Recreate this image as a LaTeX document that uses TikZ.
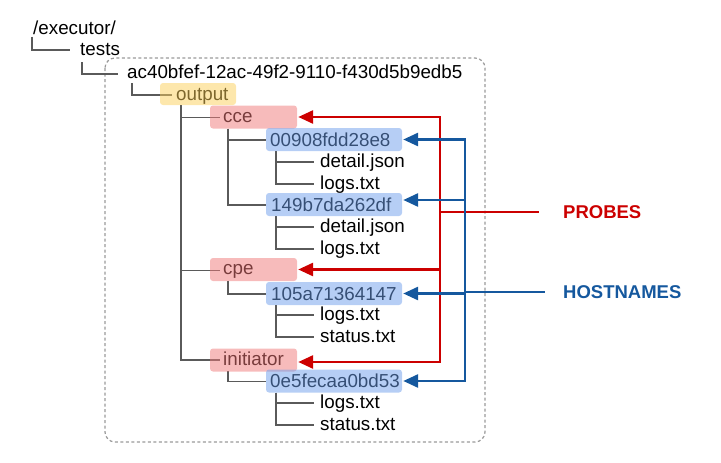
\documentclass[tikz,border=0pt]{standalone}
\usepackage{fontspec}
\setmainfont{Liberation Sans}
\usetikzlibrary{arrows.meta}
\definecolor{treegray}{HTML}{5A5A5A}
\definecolor{dashgray}{HTML}{9A9A9A}
\definecolor{yel}{HTML}{FBCF5A}
\definecolor{pnk}{HTML}{F07878}
\definecolor{blu}{HTML}{6D9EEB}
\definecolor{arrred}{HTML}{CC0000}
\definecolor{arrblue}{HTML}{15589E}
\tikzset{
  ftxt/.style={anchor=base west, inner sep=0pt, font=\fontsize{18.8}{21}\selectfont},
  tree/.style={draw=treegray, line width=1.4pt},
  boxy/.style={rounded corners=3pt, fill opacity=0.5, inner sep=0pt, draw=none},
  ybox/.style={boxy, fill=yel, minimum width=76pt, minimum height=22pt},
  pbox/.style={boxy, fill=pnk, minimum width=87pt, minimum height=23pt},
  hbox/.style={boxy, fill=blu, minimum width=136pt, minimum height=23pt},
  rline/.style={draw=arrred, line width=2.8pt},
  bline/.style={draw=arrblue, line width=2.8pt},
  lbl/.style={anchor=west, inner sep=0pt, font=\fontsize{18.5}{21}\selectfont\bfseries},
}
\begin{document}
\begin{tikzpicture}[x=1pt,y=-1pt]
\useasboundingbox (0,0) rectangle (721,463);
% dashed frame
\draw[dashgray, line width=1.2pt, dash pattern=on 3pt off 2.5pt, rounded corners=10pt] (105,58) rectangle (485,442);

% texts
\node[ftxt] (t-exec) at (33,34.5) {/executor/};
\node[ftxt] (t-tests) at (80,55) {tests};
\node[ftxt] (t-ac) at (127,78) {ac40bfef-12ac-49f2-9110-f430d5b9edb5};
\node[ftxt] (t-out) at (176,100) {output};
\node[ftxt] (t-cce) at (223,122.5) {cce};
\node[ftxt] (t-h1) at (270,146) {00908fdd28e8};
\node[ftxt] (t-f1) at (320,167) {detail.json};
\node[ftxt] (t-f2) at (320,189) {logs.txt};
\node[ftxt] (t-h2) at (271,211) {149b7da262df};
\node[ftxt] (t-f3) at (320,232) {detail.json};
\node[ftxt] (t-f4) at (320,254) {logs.txt};
\node[ftxt] (t-cpe) at (223,274.5) {cpe};
\node[ftxt] (t-h3) at (271,300) {105a71364147};
\node[ftxt] (t-f5) at (320,320) {logs.txt};
\node[ftxt] (t-f6) at (320,342) {status.txt};
\node[ftxt] (t-init) at (223,365) {initiator};
\node[ftxt] (t-h4) at (270,387.5) {0e5fecaa0bd53};
\node[ftxt] (t-f7) at (320,408) {logs.txt};
\node[ftxt] (t-f8) at (320,430) {status.txt};

% tree connectors
\draw[tree] ([xshift=-1pt,yshift=-2pt]t-exec.base west) |- ([xshift=-10pt,yshift=5pt]t-tests.base west);
\draw[tree] ([xshift=2pt,yshift=-7pt]t-tests.base west) |- ([xshift=-9pt,yshift=4pt]t-ac.base west);
\draw[tree] ([xshift=5pt,yshift=-5pt]t-ac.base west) |- ([xshift=-4pt,yshift=5pt]t-out.base west);
\draw[tree] ([xshift=5pt,yshift=-5pt]t-out.base west) |- ([xshift=-3pt,yshift=5pt]t-init.base west);
\draw[tree] ([xshift=5pt,yshift=-5pt]t-out.base west) |- ([xshift=-3pt,yshift=5pt]t-cce.base west);
\draw[tree] ([xshift=5pt,yshift=-5pt]t-out.base west) |- ([xshift=-3pt,yshift=4pt]t-cpe.base west);
\draw[tree] ([xshift=5pt,yshift=-6pt]t-cce.base west) |- ([xshift=-5pt,yshift=6pt]t-h2.base west);
\draw[tree] ([xshift=5pt,yshift=-6pt]t-cce.base west) |- ([xshift=-4pt,yshift=6pt]t-h1.base west);
\draw[tree] ([xshift=6pt,yshift=-5pt]t-h1.base west) |- ([xshift=-6pt,yshift=5pt]t-f2.base west);
\draw[tree] ([xshift=6pt,yshift=-5pt]t-h1.base west) |- ([xshift=-6pt,yshift=5pt]t-f1.base west);
\draw[tree] ([xshift=5pt,yshift=-5pt]t-h2.base west) |- ([xshift=-6pt,yshift=5pt]t-f4.base west);
\draw[tree] ([xshift=5pt,yshift=-5pt]t-h2.base west) |- ([xshift=-6pt,yshift=5pt]t-f3.base west);
\draw[tree] ([xshift=5pt,yshift=-6pt]t-cpe.base west) |- ([xshift=-5pt,yshift=6pt]t-h3.base west);
\draw[tree] ([xshift=5pt,yshift=-5pt]t-h3.base west) |- ([xshift=-6pt,yshift=5pt]t-f6.base west);
\draw[tree] ([xshift=5pt,yshift=-5pt]t-h3.base west) |- ([xshift=-6pt,yshift=5pt]t-f5.base west);
\draw[tree] ([xshift=5pt,yshift=-6pt]t-init.base west) |- ([xshift=-4pt,yshift=6pt]t-h4.base west);
\draw[tree] ([xshift=6pt,yshift=-5pt]t-h4.base west) |- ([xshift=-6pt,yshift=5pt]t-f8.base west);
\draw[tree] ([xshift=6pt,yshift=-5pt]t-h4.base west) |- ([xshift=-6pt,yshift=5pt]t-f7.base west);

% translucent highlight boxes
\node[ybox] (b-out) at (198,94) {};
\node[pbox] (b-cce) at (253.5,117) {};
\node[pbox] (b-cpe) at (253.5,269.5) {};
\node[pbox] (b-init) at (253.5,360) {};
\node[hbox] (b-h1) at (334,139.5) {};
\node[hbox] (b-h2) at (334,204.5) {};
\node[hbox] (b-h3) at (334,293.5) {};
\node[hbox] (b-h4) at (334,381) {};

% labels
\node[lbl, text=arrred] (probes) at (563,212) {PROBES};
\node[lbl, text=arrblue] (hosts) at (563,292) {HOSTNAMES};

% red bus
\coordinate (rb) at (440,0);
\draw[rline, line join=miter, arrows={Triangle[length=15pt,width=13pt]-Triangle[length=15pt,width=13pt]}]
  ([xshift=1pt]b-cce.east) -| ([yshift=-2pt]rb |- b-init.east) -- ([xshift=1pt,yshift=-2pt]b-init.east);
\draw[rline, arrows={-Triangle[length=15pt,width=13pt]}] (rb |- b-cpe.east) -- ([xshift=1pt]b-cpe.east);
\draw[rline] (rb |- probes.west) -- ([xshift=-24pt]probes.west);

% blue bus
\coordinate (bb) at (465,0);
\coordinate (h2a) at ([yshift=4.5pt]b-h2.east);
\draw[bline, line join=miter, arrows={Triangle[length=15pt,width=13pt]-Triangle[length=15pt,width=13pt]}]
  ([xshift=1pt]b-h1.east) -| (bb |- b-h4.east) -- ([xshift=1pt]b-h4.east);
\draw[bline, arrows={-Triangle[length=15pt,width=13pt]}] (bb |- h2a) -- ([xshift=1pt]h2a);
\draw[bline, arrows={-Triangle[length=15pt,width=13pt]}] (bb |- b-h3.east) -- ([xshift=1pt]b-h3.east);
\draw[bline] (bb |- hosts.west) -- ([xshift=-18pt]hosts.west);
\end{tikzpicture}
\end{document}
